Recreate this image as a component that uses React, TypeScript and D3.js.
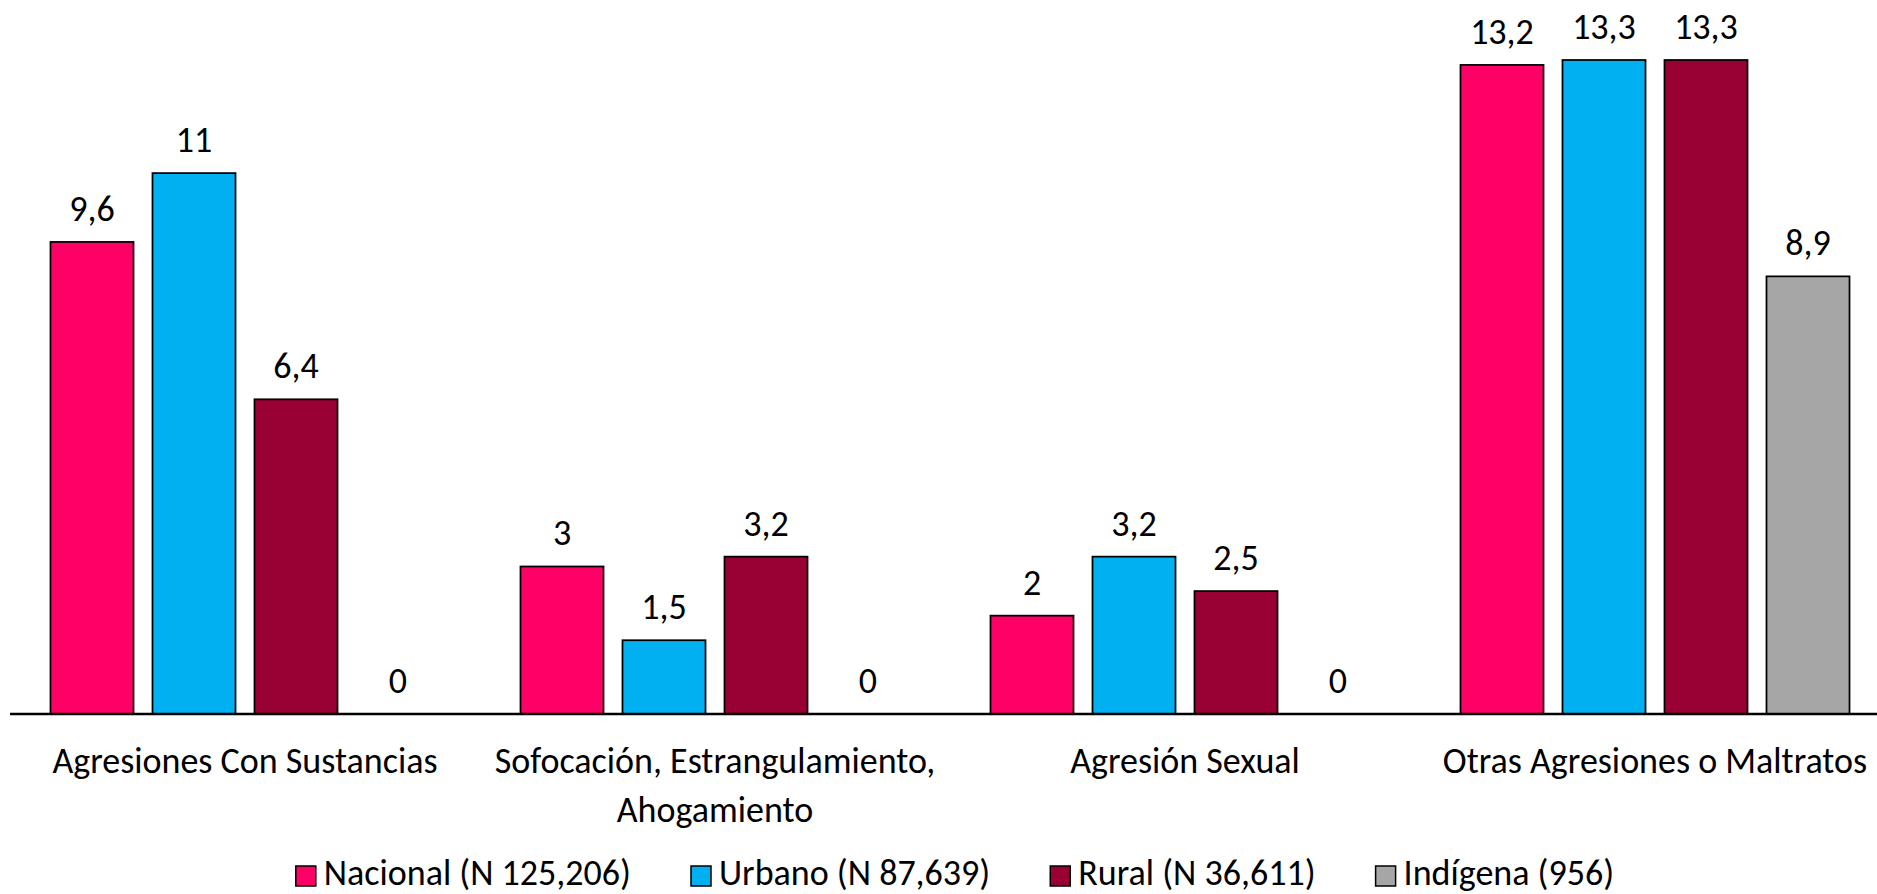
import React, { useEffect, useRef } from "react";
import * as d3 from "d3";

const categories = [
  "Agresiones Con Sustancias",
  "Sofocación, Estrangulamiento, Ahogamiento",
  "Agresión Sexual",
  "Otras Agresiones o Maltratos",
];
const seriesNames = [
  "Nacional (N 125,206)",
  "Urbano (N 87,639)",
  "Rural (N 36,611)",
  "Indígena (956)",
];
const nacional = [9.6, 3, 2, 13.2];
const urbano = [11, 1.5, 3.2, 13.3];
const rural = [6.4, 3.2, 2.5, 13.3];
const indigena = [0, 0, 0, 8.9];
const colors = ["#FF0066", "#00B0F0", "#990033", "#A6A6A6"];

const W = 1877;
const H = 894;
const FONT = "Calibri, Carlito, Lato, sans-serif";
const FS = 36;

export default function App() {
  const ref = useRef<SVGSVGElement | null>(null);

  useEffect(() => {
    const svg = d3.select(ref.current);
    svg.selectAll("*").remove();
    const values = [nacional, urbano, rural, indigena];

    const axisY = 714;
    const x0 = d3.scaleBand<string>().domain(categories).range([10, 10 + 470 * 4]).padding(0);
    const x1 = d3
      .scaleBand<number>()
      .domain(d3.range(seriesNames.length))
      .range([0, x0.bandwidth()])
      .paddingInner(0.186)
      .paddingOuter(0.397);
    const y = d3.scaleLinear().domain([0, 14.5]).range([axisY, 1]);

    const g = svg.append("g");
    categories.forEach((cat, ci) => {
      const gx = x0(cat)!;
      values.forEach((arr, si) => {
        const v = arr[ci];
        const bx = gx + x1(si)!;
        if (v > 0) {
          g.append("rect")
            .attr("x", bx)
            .attr("y", y(v))
            .attr("width", x1.bandwidth())
            .attr("height", axisY - y(v))
            .attr("fill", colors[si])
            .attr("stroke", "#000")
            .attr("stroke-width", 1.75);
        }
        g.append("text")
          .attr("x", bx + x1.bandwidth() / 2)
          .attr("y", y(v) - 21)
          .attr("text-anchor", "middle")
          .attr("font-family", FONT)
          .attr("font-size", FS)
          .attr("fill", "#000")
          .text(String(v).replace(".", ","));
      });
    });

    svg
      .append("line")
      .attr("x1", 10)
      .attr("x2", W)
      .attr("y1", axisY)
      .attr("y2", axisY)
      .attr("stroke", "#000")
      .attr("stroke-width", 2.5);

    const maxW = 470;
    categories.forEach((cat) => {
      const cx = x0(cat)! + x0.bandwidth() / 2;
      const t = svg
        .append("text")
        .attr("x", cx)
        .attr("y", 773)
        .attr("text-anchor", "middle")
        .attr("font-family", FONT)
        .attr("font-size", FS)
        .attr("fill", "#000");
      const words = cat.split(" ");
      const lines: string[] = [];
      let cur: string[] = [];
      const probe = t.append("tspan");
      words.forEach((w) => {
        const test = [...cur, w].join(" ");
        probe.text(test);
        const len = (probe.node() as SVGTSpanElement).getComputedTextLength();
        if (len > maxW && cur.length) {
          lines.push(cur.join(" "));
          cur = [w];
        } else {
          cur.push(w);
        }
      });
      if (cur.length) lines.push(cur.join(" "));
      probe.remove();
      lines.forEach((ln, i) => {
        t.append("tspan")
          .attr("x", cx)
          .attr("dy", i === 0 ? 0 : 49)
          .text(ln);
      });
    });

    const lg = svg.append("g");
    const items: { w: number }[] = [];
    const sq = 20;
    const textGap = 8;
    const itemGap = 60;
    const nodes: any[] = [];
    seriesNames.forEach((name, i) => {
      const item = lg.append("g");
      item
        .append("rect")
        .attr("x", 0)
        .attr("y", 866)
        .attr("width", sq)
        .attr("height", sq)
        .attr("fill", colors[i])
        .attr("stroke", "#000")
        .attr("stroke-width", 1.5);
      const tx = item
        .append("text")
        .attr("x", sq + textGap)
        .attr("y", 885)
        .attr("font-family", FONT)
        .attr("font-size", FS)
        .attr("fill", "#000")
        .text(name);
      const tw = (tx.node() as SVGTextElement).getComputedTextLength();
      items.push({ w: sq + textGap + tw });
      nodes.push(item);
    });
    const total = d3.sum(items, (d) => d.w) + itemGap * (items.length - 1);
    let xpos = 955 - total / 2;
    nodes.forEach((item, i) => {
      item.attr("transform", `translate(${xpos},0)`);
      xpos += items[i].w + itemGap;
    });
  }, []);

  return (
    <svg
      ref={ref}
      width={W}
      height={H}
      style={{ position: "absolute", left: 0, top: 0, display: "block", background: "#fff" }}
    />
  );
}
